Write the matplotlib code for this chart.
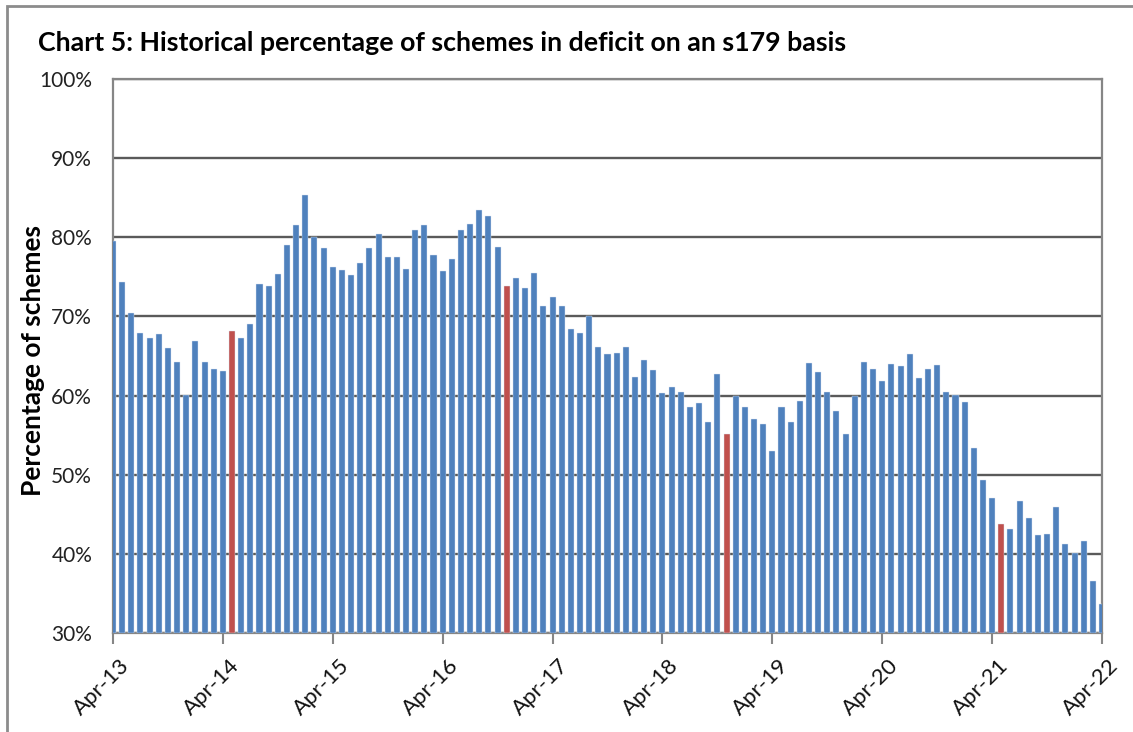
# Chart 5: percentage of schemes in deficit on an s179 basis (monthly, Apr-13 to Apr-22)
import numpy as np
import matplotlib
matplotlib.use("Agg")
import matplotlib.pyplot as plt
import matplotlib.transforms as mtransforms
from matplotlib.patches import Rectangle

plt.rcParams["font.family"] = ["Lato", "DejaVu Sans"]

COLOR_BAR = "#4F81BD"
COLOR_RED = "#C0504D"

# monthly values (%), Apr-13 .. Apr-22
pct = [
    79.5, 74.3, 70.4, 67.9, 67.3, 67.8, 66.0, 64.2, 60.1, 66.9, 64.2, 63.3, 63.1,
    68.2, 67.3, 69.0, 74.1, 73.8, 75.4, 79.0, 81.5, 85.4, 80.0, 78.6, 76.2, 75.9,
    75.2, 76.7, 78.6, 80.4, 77.5, 77.5, 76.0, 80.9, 81.5, 77.7, 75.7, 77.2, 80.9,
    81.7, 83.5, 82.7, 78.8, 73.8, 74.9, 73.6, 75.5, 71.3, 72.5, 71.3, 68.4, 67.9,
    70.1, 66.1, 65.3, 65.4, 66.2, 62.4, 64.5, 63.2, 60.3, 61.1, 60.4, 58.5, 59.0,
    56.6, 62.7, 55.2, 59.9, 58.5, 57.0, 56.4, 53.0, 58.5, 56.7, 59.3, 64.1, 63.0,
    60.5, 58.1, 55.1, 59.9, 64.3, 63.4, 61.8, 64.0, 63.7, 65.3, 62.2, 63.4, 63.8,
    60.5, 60.1, 59.2, 53.4, 49.3, 47.0, 43.8, 43.2, 46.7, 44.5, 42.4, 42.5, 45.9,
    41.3, 40.1, 41.6, 36.6, 33.7,
]
red_idx = [13, 43, 67, 97]
tick_idx = [0, 12, 24, 36, 48, 60, 72, 84, 96, 108]
tick_labels = ["Apr-13", "Apr-14", "Apr-15", "Apr-16", "Apr-17",
               "Apr-18", "Apr-19", "Apr-20", "Apr-21", "Apr-22"]

W, H = 1133, 732
fig = plt.figure(figsize=(W / 100, H / 100), dpi=100)
fig.patch.set_facecolor("white")

# plot area in pixels: left 113, right 1102, top 79, bottom 633
ax = fig.add_axes([113 / W, 1 - 633 / H, (1102 - 113) / W, (633 - 79) / H])

x = np.arange(len(pct))
colors = [COLOR_RED if i in red_idx else COLOR_BAR for i in x]
ax.bar(x, np.array(pct) - 30, bottom=30, width=0.66, color=colors,
       edgecolor="#DCE6F2", linewidth=0.3, zorder=3)

ax.set_xlim(0, len(pct) - 1)
ax.set_ylim(30, 100)
ax.set_yticks(np.arange(30, 101, 10))
ax.set_yticklabels([f"{v}%" for v in range(30, 101, 10)], fontsize=15, color="#222222")
ax.tick_params(axis="y", length=0, pad=15)

ax.set_xticks(tick_idx)
ax.set_xticklabels(tick_labels, rotation=45, ha="right", va="top",
                   rotation_mode="anchor", fontsize=16, color="#111111")
ax.tick_params(axis="x", length=8, width=1.5, color="#868686", pad=8)
# nudge the rotated labels a little to the right, as in the original
shift = mtransforms.ScaledTranslation(6 / 100, 0, fig.dpi_scale_trans)
for lab in ax.get_xticklabels():
    lab.set_transform(lab.get_transform() + shift)

ax.grid(axis="y", color="#5A5A5A", linewidth=1.7, zorder=1)
for sp in ["left", "bottom", "right", "top"]:
    ax.spines[sp].set_color("#868686")
    ax.spines[sp].set_linewidth(1.6)

ax.set_ylabel("Percentage of schemes", fontsize=19, fontweight="bold")
ax.yaxis.set_label_coords((45 - 113) / (1102 - 113), (633 - 360) / (633 - 79))

fig.text(38 / W, 1 - 43 / H, "Chart 5: Historical percentage of schemes in deficit on an s179 basis",
         fontsize=19.3, fontweight="bold", ha="left", va="center")

# outer chart-area border (left and top visible)
fig.add_artist(Rectangle((7 / W, -0.01), 1.2, 1 - 6 / H + 0.01, transform=fig.transFigure,
                         fill=False, edgecolor="#8C8C8C", linewidth=2))

fig.savefig("out.png", dpi=100)
